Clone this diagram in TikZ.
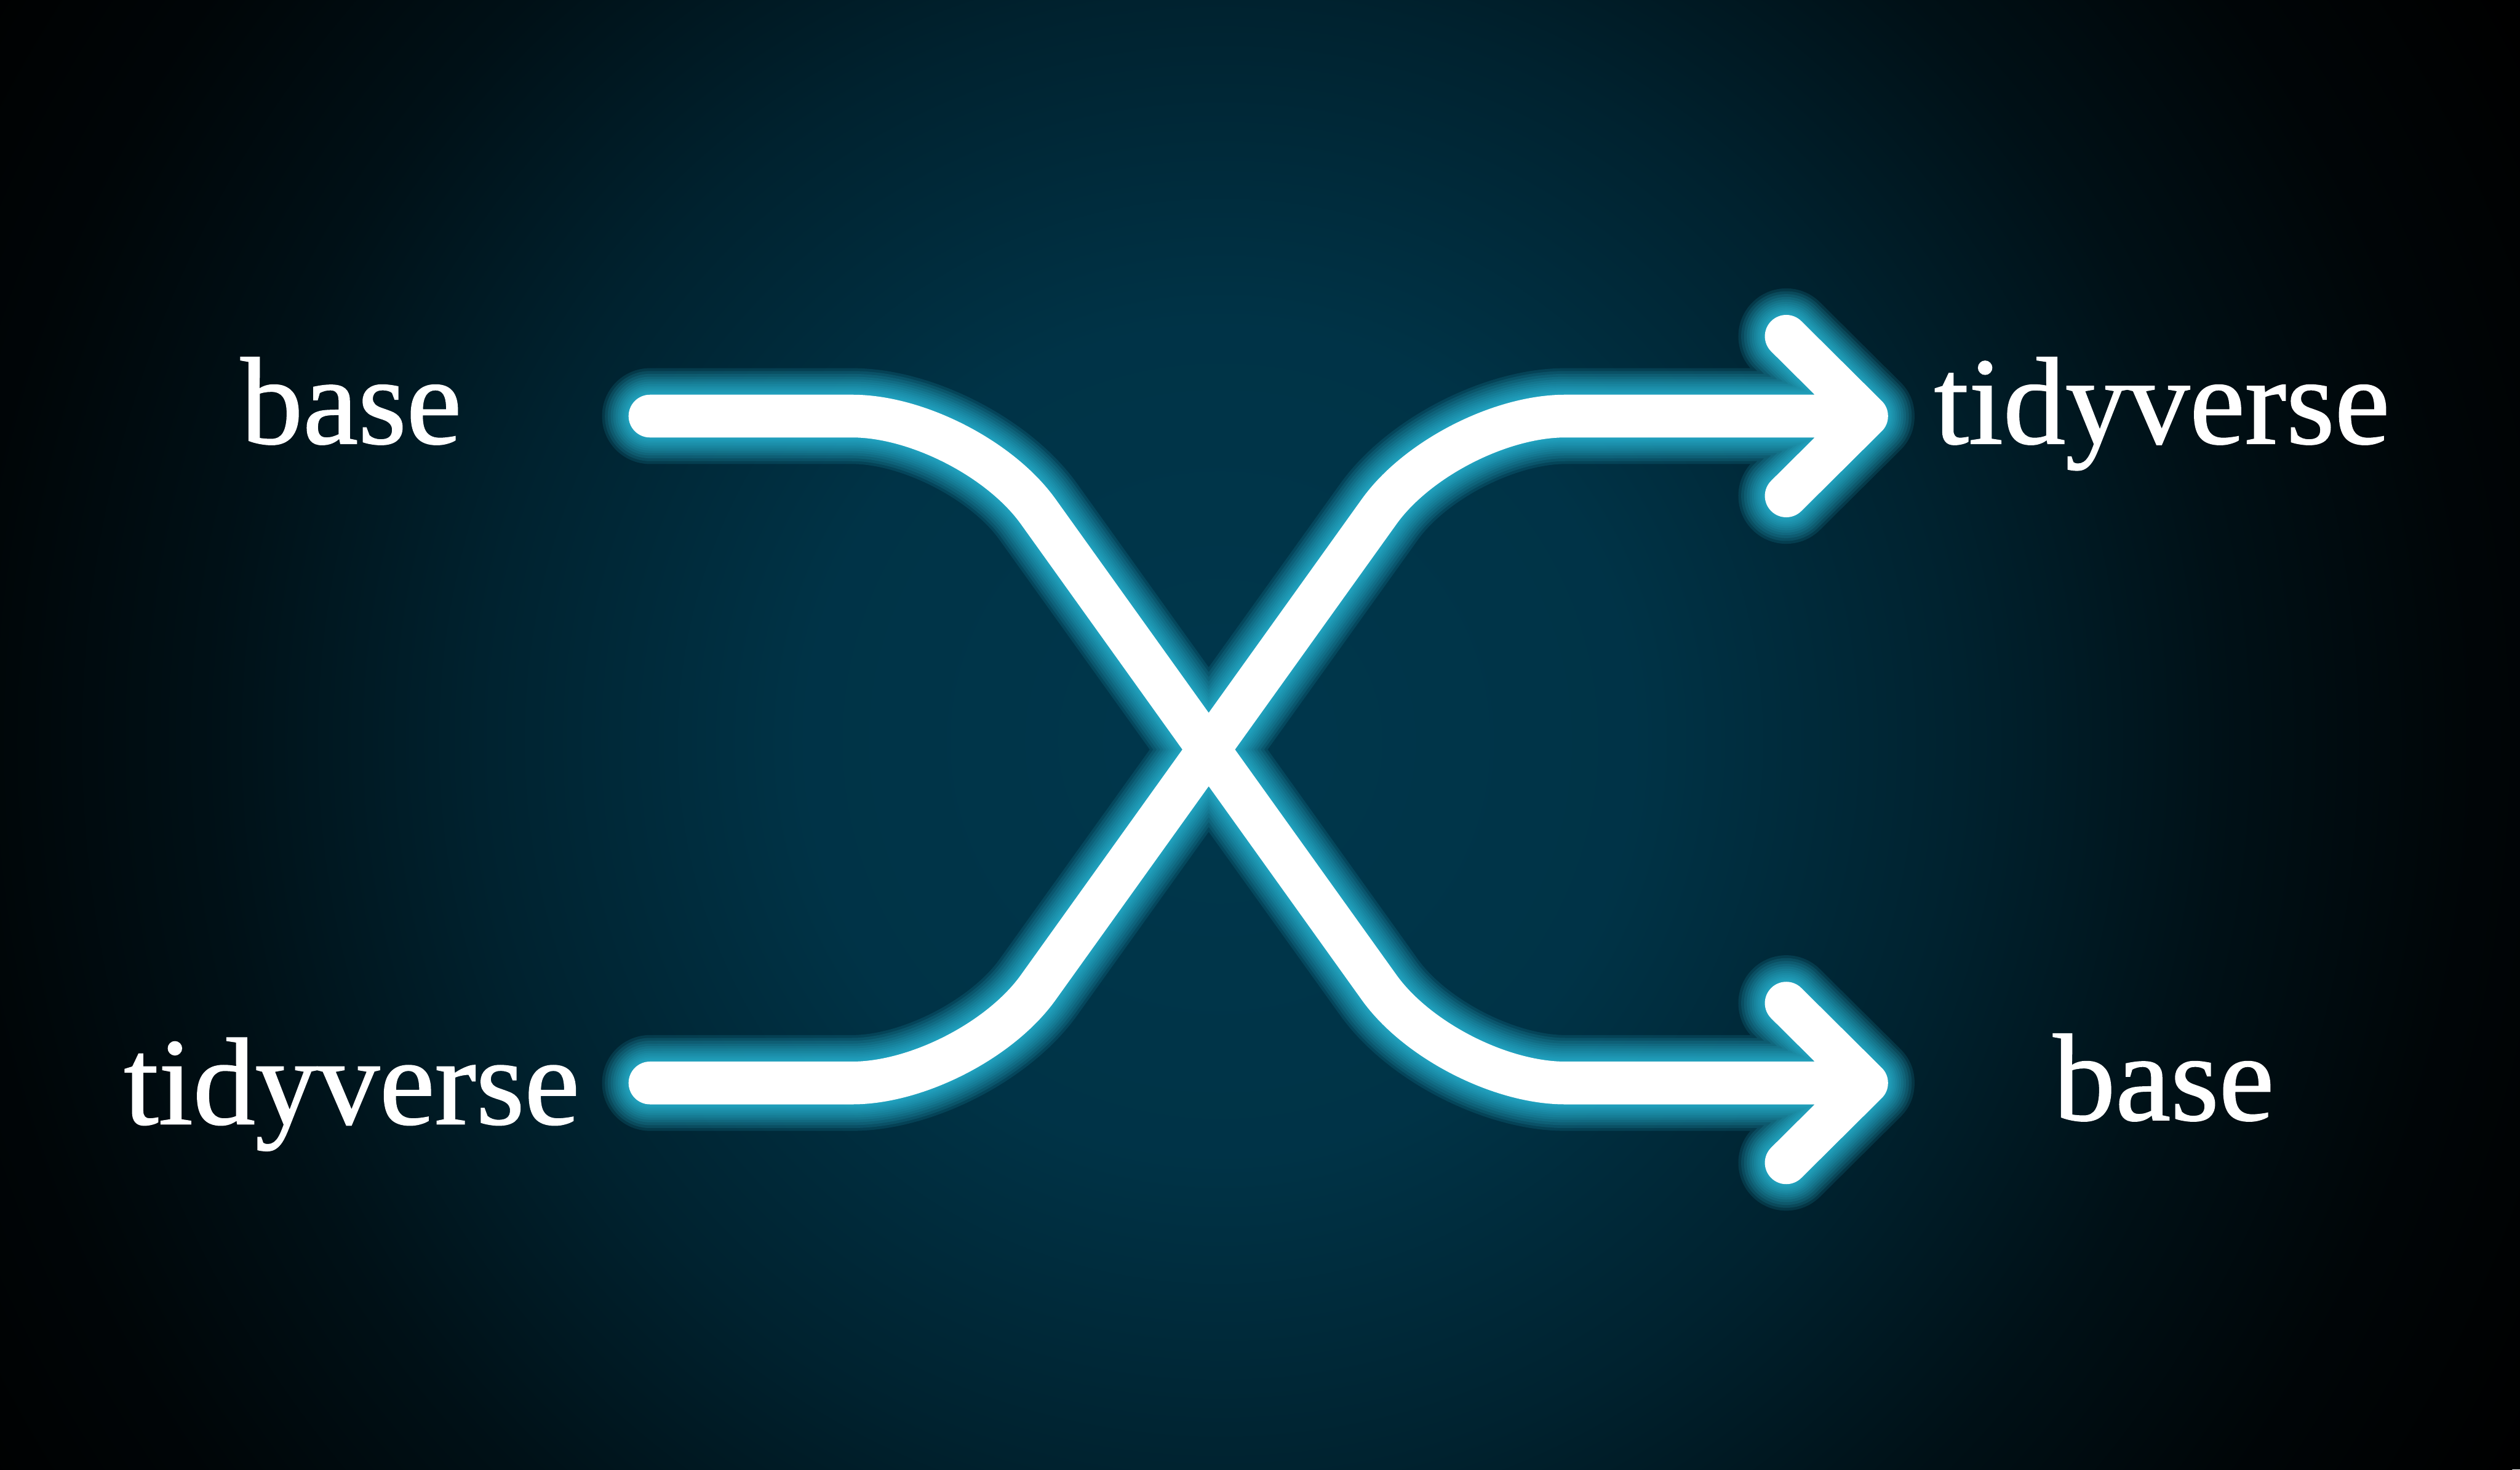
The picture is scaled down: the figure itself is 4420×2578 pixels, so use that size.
\documentclass[tikz,border=0pt]{standalone}
\usepackage{fontspec}
\setmainfont{Liberation Serif}[FakeBold=1]
\definecolor{bgc}{RGB}{0,55,76}
\definecolor{glowc}{RGB}{40,178,208}
\pgfdeclareradialshading{bgshade}{\pgfpoint{0bp}{0bp}}{color(0bp)=(bgc); color(7bp)=(bgc!93!black); color(12.5bp)=(bgc!62!black); color(17bp)=(bgc!30!black); color(21bp)=(bgc!10!black); color(25bp)=(black); color(50bp)=(black)}
\tikzset{
  lbl/.style={text=white, inner sep=0pt, anchor=base, font=\fontsize{62}{72}\selectfont},
  glowline/.style={draw=glowc, draw opacity=0.15, line cap=round, line join=round},
  mainline/.style={draw=white, line width=0.75cm, line cap=round, line join=round},
}
\begin{document}
\begin{tikzpicture}[x=0.01cm,y=-0.01cm]
\useasboundingbox (0,0) rectangle (4420,2578);
\fill[black] (0,0) rectangle (4420,2578);
\begin{scope}
  \clip (0,0) rectangle (4420,2578);
  \shade[shading=bgshade] (2140,1300) circle (26cm);
\end{scope}
% path points
\coordinate (s1) at (1140,730);
\coordinate (c1) at (1701,730);
\coordinate (c2) at (2539,1900);
\coordinate (t1) at (3274,1900);
\coordinate (s2) at (1140,1900);
\coordinate (c3) at (1701,1900);
\coordinate (c4) at (2539,730);
\coordinate (t2) at (3274,730);
\coordinate (b1) at (3133,590);
\coordinate (b2) at (3133,870);
\coordinate (b3) at (3133,1760);
\coordinate (b4) at (3133,2040);
% glow
\foreach \w in {168,158,148,138,129,121,113,106,100,94,89,85,81}{
  \pgfmathsetmacro\lw{\w*0.2845}
  \draw[glowline, line width=\lw pt]
    [rounded corners=2.06cm] (s1) -- (c1) -- (c2) -- (t1)
    (s2) -- (c3) -- (c4) -- (t2)
    [sharp corners] (b1) -- (t2) -- (b2) (b3) -- (t1) -- (b4);
}
% white lines
\draw[mainline]
  [rounded corners=2.06cm] (s1) -- (c1) -- (c2) -- (t1)
  (s2) -- (c3) -- (c4) -- (t2)
  [sharp corners] (b1) -- (t2) -- (b2) (b3) -- (t1) -- (b4);
% labels
\node[lbl] (lbase) at (616,778) {base};
\node[lbl] (ltidy) at (617,1972) {tidyverse};
\node[lbl] (rtidy) at (3792,778) {tidyverse};
\node[lbl] (rbase) at (3795,1965) {base};
\end{tikzpicture}
\end{document}
